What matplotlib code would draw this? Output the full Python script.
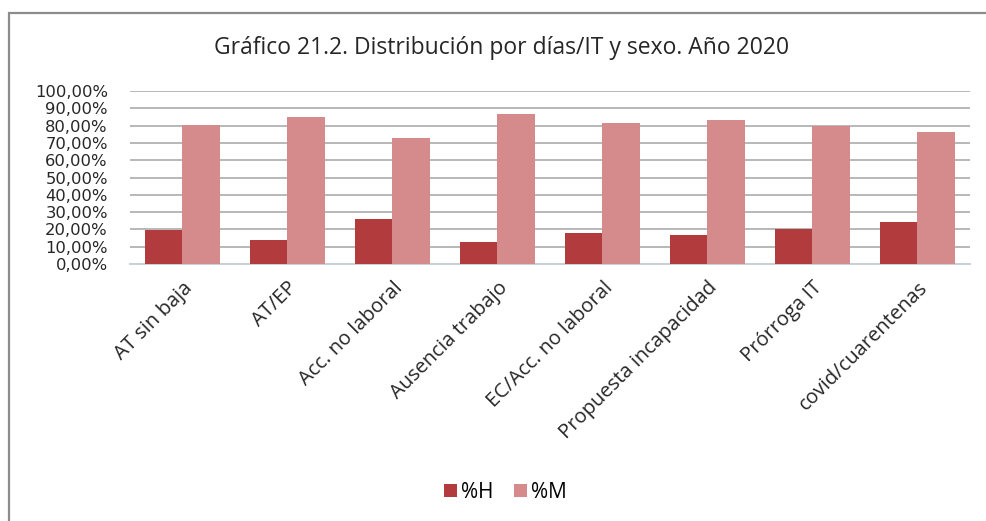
import numpy as np
import matplotlib
matplotlib.use('Agg')
import matplotlib.pyplot as plt
from matplotlib.patches import Rectangle
from matplotlib.ticker import FuncFormatter

categorias = ['AT sin baja', 'AT/EP', 'Acc. no laboral', 'Ausencia trabajo',
              'EC/Acc. no laboral', 'Propuesta incapacidad', 'Prórroga IT',
              'covid/cuarentenas']
pct_h = [19.6, 13.9, 25.8, 12.7, 18.1, 16.9, 20.0, 24.2]
pct_m = [80.4, 85.0, 73.1, 86.6, 81.6, 83.5, 79.6, 76.2]
yticks = np.arange(0, 101, 10)

color_h = '#b23c3d'
color_m = '#d58a8b'

plt.rcParams['font.family'] = ['Open Sans', 'DejaVu Sans']

fig = plt.figure(figsize=(9.87, 5.21), dpi=100)
ax = fig.add_axes([130 / 987, 1 - 264 / 521, 840 / 987, 173 / 521])

# marco exterior del grafico
fig.patches.append(Rectangle((9 / 987, -0.05), 1.1, 1 - 13 / 521 + 0.05,
                             transform=fig.transFigure, fill=False,
                             edgecolor='#8c8c8c', linewidth=1.6))

x = np.arange(len(categorias))
w = 0.36
ax.bar(x - w / 2, pct_h, w, color=color_h, label='%H', zorder=3)
ax.bar(x + w / 2, pct_m, w, color=color_m, label='%M', zorder=3)

ax.set_xlim(-0.5, len(categorias) - 0.5)
ax.set_ylim(0, 100)
ax.set_yticks(yticks)
ax.yaxis.set_major_formatter(FuncFormatter(lambda v, p: f'{v:.2f}'.replace('.', ',') + '%'))
ax.grid(axis='y', color='#b8b8b8', linewidth=1.4, zorder=0)
for s in ['top', 'right', 'left']:
    ax.spines[s].set_visible(False)
ax.spines['bottom'].set_color('#c8d0d8')
ax.spines['bottom'].set_linewidth(1.4)
ax.tick_params(axis='both', length=0, colors='#262626')
ax.tick_params(axis='y', pad=16)
for lbl in ax.get_yticklabels():
    lbl.set_fontfamily('DejaVu Sans')
    lbl.set_fontsize(11.8)

ax.set_xticks(x)
ax.set_xticklabels(categorias, rotation=45, ha='right', rotation_mode='anchor')
ax.tick_params(axis='x', pad=10, labelsize=14.5)

fig.text(0.508, 1 - 48 / 521, 'Gráfico 21.2. Distribución por días/IT y sexo. Año 2020',
         ha='center', va='center', fontsize=16.5, color='#262626')

fig.legend(loc='center', bbox_to_anchor=(0.512, 1 - 492 / 521), ncol=2, frameon=False,
           fontsize=15, handlelength=0.6, handleheight=0.6, handletextpad=0.2,
           columnspacing=1.0)

fig.savefig('out.png', dpi=100, facecolor='white')
